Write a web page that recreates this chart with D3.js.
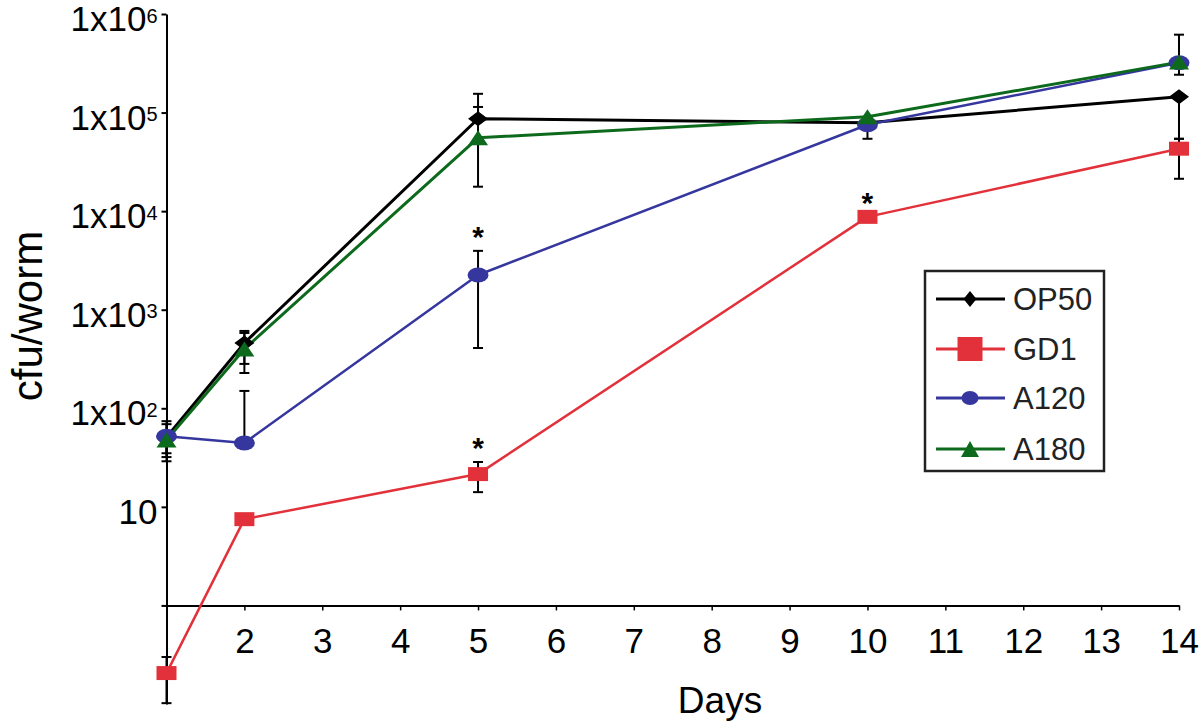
<!DOCTYPE html>
<html><head><meta charset="utf-8">
<script src="https://cdn.jsdelivr.net/npm/d3@7"></script>
<style>
html,body{margin:0;padding:0;background:#fff;}
svg{display:block;font-family:"Liberation Sans",Arial,Helvetica,sans-serif;}
</style></head>
<body><svg id="chart" width="1200" height="723"></svg>
<script>
// ---- data ----
const days = [1, 2, 5, 10, 14];
const xTickDays = [2, 3, 4, 5, 6, 7, 8, 9, 10, 11, 12, 13, 14];
const yTickValues = [1, 10, 100, 1000, 10000, 100000, 1000000];
const yTickLabels = ["", "10", "1x10|2", "1x10|3", "1x10|4", "1x10|5", "1x10|6"];
const seriesNames = ["OP50", "GD1", "A120", "A180"];

const op50 = [51, 460, 86500, 78800, 145000];
const gd1  = [0.206, 7.5, 21.5, 8750, 43000];
const a120 = [52, 44.5, 2250, 75200, 320000];
const a180 = [47.7, 400, 55500, 90700, 325000];

const op50Hi = [74, 609, 155000, null, null];
const op50Lo = [32, 228, null, 54200, 54200];
const gd1Hi  = [0.30, null, 28.5, null, 54200];
const gd1Lo  = [0.102, null, 14.1, null, 21300];
const a120Hi = [69, 150, 3955, null, 617000];
const a120Lo = [35, null, 409, null, 242000];
const a180Hi = [null, 581, 114000, null, null];
const a180Lo = [29, 282, 17700, null, null];

const op50Sig = [false, false, false, false, false];
const gd1Sig  = [false, false, true, true, false];
const a120Sig = [false, false, true, false, false];
const a180Sig = [false, false, false, false, false];

// ---- styling ----
const colors = ["#000000", "#e2313a", "#35379e", "#0d6a1c"];
const shapes = ["diamond", "square", "circle", "triangle"];
const lineWidths = [3, 2.5, 2.5, 3];

const series = seriesNames.map((name, i) => ({
  name,
  values: [op50, gd1, a120, a180][i],
  hi: [op50Hi, gd1Hi, a120Hi, a180Hi][i],
  lo: [op50Lo, gd1Lo, a120Lo, a180Lo][i],
  sig: [op50Sig, gd1Sig, a120Sig, a180Sig][i],
  color: colors[i], shape: shapes[i], lw: lineWidths[i]
}));

const svg = d3.select("#chart");
const x = d3.scaleLinear().domain([1, 14]).range([166.5, 1179]);
const y = d3.scaleLog().domain([0.1, 1e6]).range([704, 14]);

function markerPath(shape, w, h) {
  if (shape === "diamond") return `M0,${-h/2}L${w/2},0L0,${h/2}L${-w/2},0Z`;
  if (shape === "square") return `M${-w/2},${-h/2}h${w}v${h}h${-w}Z`;
  if (shape === "triangle") return `M0,${-h/2}L${w/2},${h/2}L${-w/2},${h/2}Z`;
  return `M${-w/2},0A${w/2},${h/2} 0 1,0 ${w/2},0A${w/2},${h/2} 0 1,0 ${-w/2},0Z`;
}
const plotSize = {diamond: [20, 15], square: [20, 14], circle: [21, 15], triangle: [20, 15]};
const legendSize = {diamond: [13, 16], square: [25, 24], circle: [17, 14], triangle: [18, 16]};

// ---- axes ----
const yAxis = d3.axisLeft(y).tickValues(yTickValues).tickSize(5).tickSizeOuter(0).tickFormat("");
const gy = svg.append("g").attr("transform", `translate(${x(1)},0)`).call(yAxis);
gy.select(".domain").attr("stroke-width", 2);
gy.selectAll(".tick line").attr("stroke-width", 2);
gy.selectAll(".tick").each(function(d, i) {
  const lab = yTickLabels[i];
  if (!lab) return;
  const parts = lab.split("|");
  const t = d3.select(this).append("text")
    .attr("x", -9).attr("y", 4).attr("dy", "0.36em")
    .attr("text-anchor", "end").attr("fill", "#000")
    .style("font-size", "35px");
  t.append("tspan").text(parts[0]);
  if (parts[1]) t.append("tspan").attr("dy", "-0.42em").style("font-size", "20px").text(parts[1]);
});

const xAxis = d3.axisBottom(x).tickValues(xTickDays).tickSize(5).tickSizeOuter(0).tickFormat(d => d);
const gx = svg.append("g").attr("transform", `translate(0,${y(1)})`).call(xAxis);
gx.select(".domain").attr("stroke-width", 2);
gx.selectAll(".tick line").attr("stroke-width", 1.5);
gx.selectAll(".tick text").attr("y", 48).attr("dy", 0).attr("fill", "#000").style("font-size", "35px");

svg.append("text").attr("x", 720).attr("y", 713).attr("text-anchor", "middle")
  .style("font-size", "37px").text("Days");
svg.append("text").attr("transform", "translate(42,316) rotate(-90)").attr("text-anchor", "middle")
  .style("font-size", "42px").text("cfu/worm");

// ---- error bars ----
const eb = svg.append("g").attr("stroke", "#000").attr("stroke-width", 2);
series.forEach(s => {
  days.forEach((d, i) => {
    const hi = s.hi[i], lo = s.lo[i], v = s.values[i];
    if (hi == null && lo == null) return;
    const yt = y(hi != null ? hi : v), yb = y(lo != null ? lo : v);
    eb.append("line").attr("x1", x(d)).attr("x2", x(d)).attr("y1", yt).attr("y2", yb);
    if (hi != null) eb.append("line").attr("x1", x(d) - 5).attr("x2", x(d) + 5).attr("y1", yt).attr("y2", yt);
    if (lo != null) eb.append("line").attr("x1", x(d) - 5).attr("x2", x(d) + 5).attr("y1", yb).attr("y2", yb);
  });
});

// ---- lines and markers ----
const line = d3.line().x((d, i) => x(days[i])).y(d => y(d));
series.forEach(s => {
  svg.append("path").attr("d", line(s.values)).attr("fill", "none")
    .attr("stroke", s.color).attr("stroke-width", s.lw).attr("stroke-linejoin", "round");
});
series.forEach(s => {
  const [w, h] = plotSize[s.shape];
  svg.append("g").selectAll("path").data(s.values).join("path")
    .attr("transform", (d, i) => `translate(${x(days[i])},${y(d)})`)
    .attr("d", markerPath(s.shape, w, h)).attr("fill", s.color);
});

// ---- significance asterisks ----
series.forEach(s => {
  s.sig.forEach((flag, i) => {
    if (!flag) return;
    const top = y(s.hi[i] != null ? s.hi[i] : s.values[i]);
    svg.append("text").attr("x", x(days[i])).attr("y", top - 4)
      .attr("text-anchor", "middle").style("font-size", "30px").style("font-weight", "bold").text("*");
  });
});

// ---- legend ----
const lg = svg.append("g");
lg.append("rect").attr("x", 925).attr("y", 271).attr("width", 179).attr("height", 200)
  .attr("fill", "#fff").attr("stroke", "#222").attr("stroke-width", 2.5);
const rowY = [299, 349, 398, 449];
series.forEach((s, i) => {
  const g = lg.append("g").attr("transform", `translate(0,${rowY[i]})`);
  g.append("line").attr("x1", 936).attr("x2", 1005).attr("y1", 0).attr("y2", 0)
    .attr("stroke", s.color).attr("stroke-width", 3);
  const [w, h] = legendSize[s.shape];
  g.append("path").attr("transform", "translate(970,0)").attr("d", markerPath(s.shape, w, h)).attr("fill", s.color);
  g.append("text").attr("x", 1013).attr("y", 0).attr("dy", "0.36em")
    .style("font-size", "31px").attr("fill", "#222").text(s.name);
});
</script></body></html>
